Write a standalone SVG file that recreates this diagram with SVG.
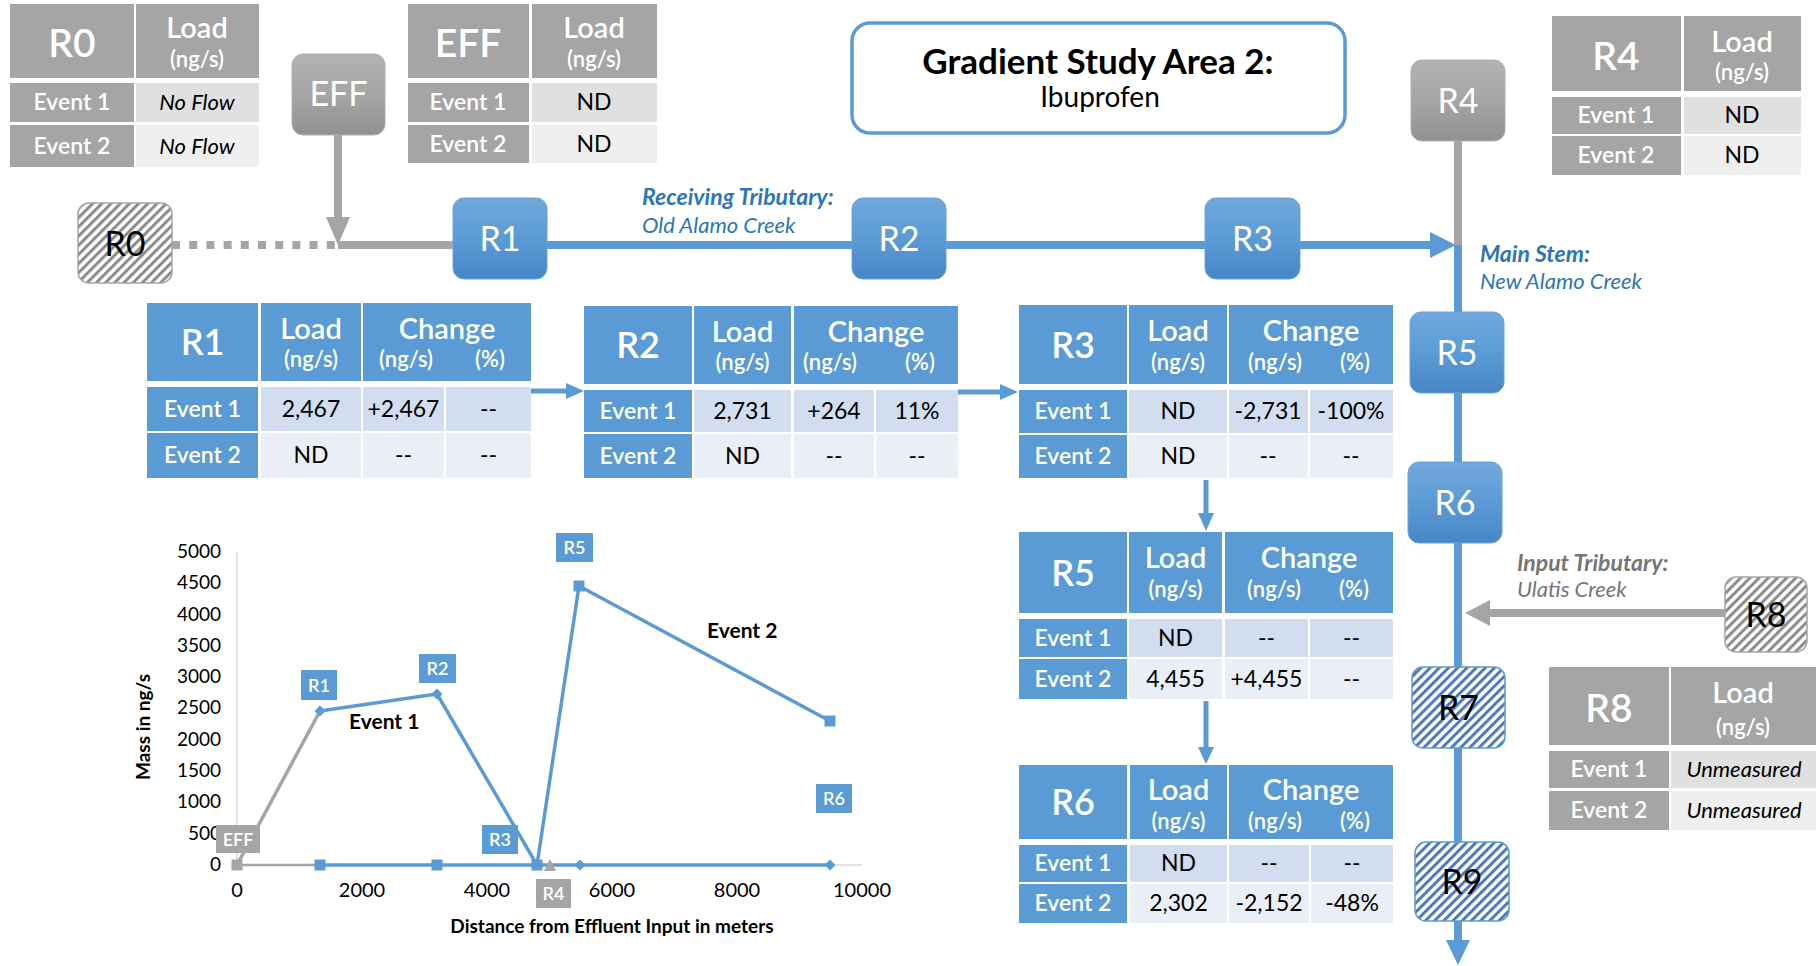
<svg xmlns="http://www.w3.org/2000/svg" width="1816" height="966" viewBox="0 0 1816 966">
<defs>
<linearGradient id="gBlue" x1="0" y1="0" x2="0" y2="1">
<stop offset="0" stop-color="#72A8DD"/>
<stop offset="0.5" stop-color="#5B9BD5"/>
<stop offset="1" stop-color="#4786C6"/>
</linearGradient>
<linearGradient id="gGray" x1="0" y1="0" x2="0" y2="1">
<stop offset="0" stop-color="#B3B3B3"/>
<stop offset="0.5" stop-color="#A5A5A5"/>
<stop offset="1" stop-color="#919191"/>
</linearGradient>
<pattern id="hGray" width="6.5" height="10" patternUnits="userSpaceOnUse" patternTransform="rotate(45)">
<rect width="6.5" height="10" fill="#fff"/>
<rect width="3" height="10" fill="#8C8C8C"/>
</pattern>
<pattern id="hBlue" width="6.5" height="10" patternUnits="userSpaceOnUse" patternTransform="rotate(45)">
<rect width="6.5" height="10" fill="#fff"/>
<rect width="3" height="10" fill="#4F78BC"/>
</pattern>
<style>
text{font-family:Lato,"Liberation Sans",sans-serif}
.c{text-anchor:middle}
.w{fill:#fff}
.k{fill:#000}
.gh{fill:#A5A5A5}.g1{fill:#E0E0E0}.g2{fill:#EFEFEF}
.bh{fill:#5B9BD5}.b1{fill:#D2DEEF}.b2{fill:#EAEFF7}
.nb{fill:url(#gBlue);stroke:#6AA3D8;stroke-width:1}
.ng{fill:url(#gGray);stroke:#B0B0B0;stroke-width:1}
.hg{fill:url(#hGray);stroke:#A5A5A5;stroke-width:1.5}
.hb{fill:url(#hBlue);stroke:#5B9BD5;stroke-width:1.5}
.nt{font-size:34px;text-anchor:middle}
.tr{font-size:39px;text-anchor:middle;fill:#fff;font-weight:600}
.br{font-size:36px;text-anchor:middle;fill:#fff;font-weight:600}
.tl{font-size:29px;text-anchor:middle;fill:#fff;font-weight:600}
.tu{font-size:22px;text-anchor:middle;fill:#fff;font-weight:600}
.te{font-size:23px;text-anchor:middle;fill:#fff;font-weight:600}
.tv{font-size:23px;text-anchor:middle;fill:#000}
.it{font-style:italic;font-size:22px}
.lb{stroke:#5B9BD5;stroke-width:8;fill:none}
.lg{stroke:#A5A5A5;stroke-width:8;fill:none}
.sb{stroke:#5B9BD5;stroke-width:5;fill:none}
.fb{fill:#5B9BD5}.fg{fill:#A5A5A5}
.ax{stroke:#D9D9D9;stroke-width:1.5;fill:none}
.yl{font-size:19px;text-anchor:end;fill:#000}
.xl{font-size:20px;text-anchor:middle;fill:#000}
.cl{font-size:18px;text-anchor:middle;fill:#fff;font-weight:600}
</style>
</defs>
<rect width="1816" height="966" fill="#fff"/>

<!-- Title -->
<g id="title">
<rect x="852" y="23" width="493" height="110" rx="18" fill="#fff" stroke="#5B9BD5" stroke-width="3.5"/>
<text x="1098" y="74" class="c" font-size="35" font-weight="bold" fill="#000">Gradient Study Area 2:</text>
<text x="1100" y="107" class="c" font-size="28" fill="#000">Ibuprofen</text>
</g>

<!-- Connectors -->
<g id="connectors">
<path class="lg" d="M172 245 H338" stroke-dasharray="8 9.2"/>
<path class="lg" d="M338 245 H454"/>
<path class="lg" d="M338 135 V220"/>
<polygon class="fg" points="326,217 350,217 338,245"/>
<path class="lb" d="M546 245 H1432"/>
<polygon class="fb" points="1430,232 1430,258 1456,245"/>
<path class="lg" d="M1458 140 V245"/>
<path class="lb" d="M1458 245 V942"/>
<polygon class="fb" points="1446,940 1470,940 1458,965"/>
<path class="lg" d="M1726 613 H1488"/>
<polygon class="fg" points="1490,600 1490,626 1465,613"/>
<path class="sb" d="M531 391 H568"/>
<polygon class="fb" points="566,383 566,399 584,391"/>
<path class="sb" d="M958 392 H1002"/>
<polygon class="fb" points="1000,384 1000,400 1018,392"/>
<path class="sb" d="M1206 480 V515"/>
<polygon class="fb" points="1198,513 1214,513 1206,531"/>
<path class="sb" d="M1206 701 V749"/>
<polygon class="fb" points="1198,747 1214,747 1206,764"/>
</g>

<!-- Flow labels -->
<g id="labels">
<text x="642" y="205" font-size="23" font-weight="bold" font-style="italic" fill="#2E75B6">Receiving Tributary:</text>
<text x="642" y="233" font-size="22" font-style="italic" fill="#2E75B6">Old Alamo Creek</text>
<text x="1480" y="262" font-size="23" font-weight="bold" font-style="italic" fill="#2E75B6">Main Stem:</text>
<text x="1480" y="289" font-size="22" font-style="italic" fill="#2E75B6">New Alamo Creek</text>
<text x="1517" y="571" font-size="23" font-weight="bold" font-style="italic" fill="#767676">Input Tributary:</text>
<text x="1517" y="597" font-size="22" font-style="italic" fill="#767676">Ulatis Creek</text>
</g>

<!-- Nodes -->
<g id="node-R0"><rect class="hg" x="78" y="203" width="94" height="80" rx="11"/><text class="nt k" x="125" y="256">R0</text></g>
<g id="node-EFF"><rect class="ng" x="292" y="54" width="93" height="81" rx="11"/><text class="nt w" x="338.5" y="106">EFF</text></g>
<g id="node-R1"><rect class="nb" x="453" y="198" width="94" height="81" rx="11"/><text class="nt w" x="500" y="251">R1</text></g>
<g id="node-R2"><rect class="nb" x="852" y="198" width="94" height="81" rx="11"/><text class="nt w" x="899" y="251">R2</text></g>
<g id="node-R3"><rect class="nb" x="1205" y="198" width="95" height="81" rx="11"/><text class="nt w" x="1252.5" y="251">R3</text></g>
<g id="node-R4"><rect class="ng" x="1411" y="60" width="94" height="81" rx="11"/><text class="nt w" x="1458" y="113">R4</text></g>
<g id="node-R5"><rect class="nb" x="1410" y="312" width="94" height="81" rx="11"/><text class="nt w" x="1457" y="365">R5</text></g>
<g id="node-R6"><rect class="nb" x="1408" y="462" width="94" height="81" rx="11"/><text class="nt w" x="1455" y="515">R6</text></g>
<g id="node-R7"><rect class="hb" x="1412" y="667" width="93" height="81" rx="11"/><text class="nt k" x="1458.5" y="720">R7</text></g>
<g id="node-R8"><rect class="hg" x="1725" y="577" width="82" height="75" rx="11"/><text class="nt k" x="1766" y="627">R8</text></g>
<g id="node-R9"><rect class="hb" x="1415" y="842" width="94" height="79" rx="11"/><text class="nt k" x="1462" y="894">R9</text></g>

<!-- Gray tables -->
<g id="table-R0">
<rect class="gh" x="10" y="4" width="124" height="74"/><rect class="gh" x="136" y="4" width="123" height="74"/>
<rect class="gh" x="10" y="83" width="124" height="39"/><rect class="g1" x="136" y="83" width="123" height="39"/>
<rect class="gh" x="10" y="125" width="124" height="42"/><rect class="g2" x="136" y="125" width="123" height="42"/>
<text class="tr" x="72" y="57">R0</text><text class="tl" x="197" y="38">Load</text><text class="tu" x="197" y="67">(ng/s)</text>
<text class="te" x="72" y="110">Event 1</text><text class="tv it" x="197" y="110">No Flow</text>
<text class="te" x="72" y="154">Event 2</text><text class="tv it" x="197" y="154">No Flow</text>
</g>
<g id="table-EFF">
<rect class="gh" x="408" y="4" width="121" height="74"/><rect class="gh" x="532" y="4" width="125" height="74"/>
<rect class="gh" x="408" y="83" width="121" height="39"/><rect class="g1" x="532" y="83" width="125" height="39"/>
<rect class="gh" x="408" y="125" width="121" height="38"/><rect class="g2" x="532" y="125" width="125" height="38"/>
<text class="tr" x="468" y="57">EFF</text><text class="tl" x="594" y="38">Load</text><text class="tu" x="594" y="67">(ng/s)</text>
<text class="te" x="468" y="110">Event 1</text><text class="tv" x="594" y="110">ND</text>
<text class="te" x="468" y="152">Event 2</text><text class="tv" x="594" y="152">ND</text>
</g>
<g id="table-R4">
<rect class="gh" x="1552" y="16" width="129" height="75"/><rect class="gh" x="1684" y="16" width="117" height="75"/>
<rect class="gh" x="1552" y="97" width="129" height="37"/><rect class="g1" x="1684" y="97" width="117" height="37"/>
<rect class="gh" x="1552" y="136" width="129" height="39"/><rect class="g2" x="1684" y="136" width="117" height="39"/>
<text class="tr" x="1616" y="70">R4</text><text class="tl" x="1742" y="52">Load</text><text class="tu" x="1742" y="80">(ng/s)</text>
<text class="te" x="1616" y="123">Event 1</text><text class="tv" x="1742" y="123">ND</text>
<text class="te" x="1616" y="163">Event 2</text><text class="tv" x="1742" y="163">ND</text>
</g>
<g id="table-R8">
<rect class="gh" x="1549" y="667" width="120" height="78"/><rect class="gh" x="1671" y="667" width="145" height="78"/>
<rect class="gh" x="1549" y="751" width="120" height="37"/><rect class="g1" x="1671" y="751" width="145" height="37"/>
<rect class="gh" x="1549" y="791" width="120" height="39"/><rect class="g2" x="1671" y="791" width="145" height="39"/>
<text class="tr" x="1609" y="722">R8</text><text class="tl" x="1743" y="703">Load</text><text class="tu" x="1743" y="735">(ng/s)</text>
<text class="te" x="1609" y="777">Event 1</text><text class="tv it" x="1744" y="777">Unmeasured</text>
<text class="te" x="1609" y="818">Event 2</text><text class="tv it" x="1744" y="818">Unmeasured</text>
</g>

<!-- Blue tables -->
<g id="table-R1">
<rect class="bh" x="147" y="303" width="111" height="78"/><rect class="bh" x="261" y="303" width="100" height="78"/><rect class="bh" x="363" y="303" width="168" height="78"/>
<rect class="bh" x="147" y="387" width="111" height="44"/><rect class="b1" x="261" y="387" width="100" height="44"/><rect class="b1" x="363" y="387" width="81" height="44"/><rect class="b1" x="446" y="387" width="85" height="44"/>
<rect class="bh" x="147" y="433" width="111" height="45"/><rect class="b2" x="261" y="433" width="100" height="45"/><rect class="b2" x="363" y="433" width="81" height="45"/><rect class="b2" x="446" y="433" width="85" height="45"/>
<text class="br" x="202.5" y="355">R1</text>
<text class="tl" x="311" y="339">Load</text><text class="tu" x="311" y="367">(ng/s)</text>
<text class="tl" x="447" y="339">Change</text><text class="tu" x="406" y="367">(ng/s)</text><text class="tu" x="490" y="367">(%)</text>
<text class="te" x="202.5" y="417">Event 1</text><text class="tv" x="311" y="417">2,467</text><text class="tv" x="403.5" y="417">+2,467</text><text class="tv" x="488.5" y="417">--</text>
<text class="te" x="202.5" y="463">Event 2</text><text class="tv" x="311" y="463">ND</text><text class="tv" x="403.5" y="463">--</text><text class="tv" x="488.5" y="463">--</text>
</g>
<g id="table-R2">
<rect class="bh" x="584" y="306" width="108" height="78"/><rect class="bh" x="694" y="306" width="97" height="78"/><rect class="bh" x="794" y="306" width="164" height="78"/>
<rect class="bh" x="584" y="390" width="108" height="42"/><rect class="b1" x="694" y="390" width="97" height="42"/><rect class="b1" x="794" y="390" width="80" height="42"/><rect class="b1" x="876" y="390" width="82" height="42"/>
<rect class="bh" x="584" y="434" width="108" height="44"/><rect class="b2" x="694" y="434" width="97" height="44"/><rect class="b2" x="794" y="434" width="80" height="44"/><rect class="b2" x="876" y="434" width="82" height="44"/>
<text class="br" x="638" y="358">R2</text>
<text class="tl" x="742.5" y="342">Load</text><text class="tu" x="742.5" y="370">(ng/s)</text>
<text class="tl" x="876" y="342">Change</text><text class="tu" x="830" y="370">(ng/s)</text><text class="tu" x="920" y="370">(%)</text>
<text class="te" x="638" y="419">Event 1</text><text class="tv" x="742.5" y="419">2,731</text><text class="tv" x="834" y="419">+264</text><text class="tv" x="917" y="419">11%</text>
<text class="te" x="638" y="464">Event 2</text><text class="tv" x="742.5" y="464">ND</text><text class="tv" x="834" y="464">--</text><text class="tv" x="917" y="464">--</text>
</g>
<g id="table-R3">
<rect class="bh" x="1019" y="305" width="108" height="79"/><rect class="bh" x="1129" y="305" width="98" height="79"/><rect class="bh" x="1229" y="305" width="164" height="79"/>
<rect class="bh" x="1019" y="390" width="108" height="43"/><rect class="b1" x="1129" y="390" width="98" height="43"/><rect class="b1" x="1229" y="390" width="79" height="43"/><rect class="b1" x="1310" y="390" width="83" height="43"/>
<rect class="bh" x="1019" y="435" width="108" height="43"/><rect class="b2" x="1129" y="435" width="98" height="43"/><rect class="b2" x="1229" y="435" width="79" height="43"/><rect class="b2" x="1310" y="435" width="83" height="43"/>
<text class="br" x="1073" y="358">R3</text>
<text class="tl" x="1178" y="341">Load</text><text class="tu" x="1178" y="370">(ng/s)</text>
<text class="tl" x="1311" y="341">Change</text><text class="tu" x="1275" y="370">(ng/s)</text><text class="tu" x="1355" y="370">(%)</text>
<text class="te" x="1073" y="419">Event 1</text><text class="tv" x="1178" y="419">ND</text><text class="tv" x="1268" y="419">-2,731</text><text class="tv" x="1351" y="419">-100%</text>
<text class="te" x="1073" y="464">Event 2</text><text class="tv" x="1178" y="464">ND</text><text class="tv" x="1268" y="464">--</text><text class="tv" x="1351" y="464">--</text>
</g>
<g id="table-R5">
<rect class="bh" x="1019" y="532" width="108" height="81"/><rect class="bh" x="1129" y="532" width="93" height="81"/><rect class="bh" x="1225" y="532" width="168" height="81"/>
<rect class="bh" x="1019" y="619" width="108" height="38"/><rect class="b1" x="1129" y="619" width="93" height="38"/><rect class="b1" x="1225" y="619" width="83" height="38"/><rect class="b1" x="1310" y="619" width="83" height="38"/>
<rect class="bh" x="1019" y="659" width="108" height="40"/><rect class="b2" x="1129" y="659" width="93" height="40"/><rect class="b2" x="1225" y="659" width="83" height="40"/><rect class="b2" x="1310" y="659" width="83" height="40"/>
<text class="br" x="1073" y="586">R5</text>
<text class="tl" x="1175.5" y="568">Load</text><text class="tu" x="1175.5" y="597">(ng/s)</text>
<text class="tl" x="1309" y="568">Change</text><text class="tu" x="1274" y="597">(ng/s)</text><text class="tu" x="1354" y="597">(%)</text>
<text class="te" x="1073" y="646">Event 1</text><text class="tv" x="1175.5" y="646">ND</text><text class="tv" x="1266.5" y="646">--</text><text class="tv" x="1351.5" y="646">--</text>
<text class="te" x="1073" y="687">Event 2</text><text class="tv" x="1175.5" y="687">4,455</text><text class="tv" x="1266.5" y="687">+4,455</text><text class="tv" x="1351.5" y="687">--</text>
</g>
<g id="table-R6">
<rect class="bh" x="1019" y="765" width="108" height="74"/><rect class="bh" x="1130" y="765" width="97" height="74"/><rect class="bh" x="1229" y="765" width="164" height="74"/>
<rect class="bh" x="1019" y="845" width="108" height="37"/><rect class="b1" x="1130" y="845" width="97" height="37"/><rect class="b1" x="1229" y="845" width="80" height="37"/><rect class="b1" x="1311" y="845" width="82" height="37"/>
<rect class="bh" x="1019" y="884" width="108" height="39"/><rect class="b2" x="1130" y="884" width="97" height="39"/><rect class="b2" x="1229" y="884" width="80" height="39"/><rect class="b2" x="1311" y="884" width="82" height="39"/>
<text class="br" x="1073" y="815">R6</text>
<text class="tl" x="1178.5" y="800">Load</text><text class="tu" x="1178.5" y="829">(ng/s)</text>
<text class="tl" x="1311" y="800">Change</text><text class="tu" x="1275" y="829">(ng/s)</text><text class="tu" x="1355" y="829">(%)</text>
<text class="te" x="1073" y="871">Event 1</text><text class="tv" x="1178.5" y="871">ND</text><text class="tv" x="1269" y="871">--</text><text class="tv" x="1352" y="871">--</text>
<text class="te" x="1073" y="911">Event 2</text><text class="tv" x="1178.5" y="911">2,302</text><text class="tv" x="1269" y="911">-2,152</text><text class="tv" x="1352" y="911">-48%</text>
</g>

<!-- Chart -->
<g id="chart">
<path class="ax" d="M237 552 V865 M237 865 H862"/>
<g id="y-labels">
<text class="yl" x="221" y="558">5000</text>
<text class="yl" x="221" y="589">4500</text>
<text class="yl" x="221" y="621">4000</text>
<text class="yl" x="221" y="652">3500</text>
<text class="yl" x="221" y="683">3000</text>
<text class="yl" x="221" y="714">2500</text>
<text class="yl" x="221" y="746">2000</text>
<text class="yl" x="221" y="777">1500</text>
<text class="yl" x="221" y="808">1000</text>
<text class="yl" x="221" y="840">500</text>
<text class="yl" x="221" y="871">0</text>
</g>
<g id="x-labels">
<text class="xl" x="237" y="897">0</text>
<text class="xl" x="362" y="897">2000</text>
<text class="xl" x="487" y="897">4000</text>
<text class="xl" x="612" y="897">6000</text>
<text class="xl" x="737" y="897">8000</text>
<text class="xl" x="862" y="897">10000</text>
</g>
<text transform="translate(150,727) rotate(-90)" class="c" font-size="19" font-weight="bold" fill="#000">Mass in ng/s</text>
<text x="612" y="933" class="c" font-size="19" font-weight="bold" fill="#000">Distance from Effluent Input in meters</text>
<g id="series">
<path d="M237 865 H320" stroke="#A5A5A5" stroke-width="2.5" fill="none"/>
<path d="M237 865 L320 711" stroke="#A5A5A5" stroke-width="3.5" fill="none"/>
<path d="M320 711 L437 694 L537 865 L830 865" stroke="#5B9BD5" stroke-width="3.5" fill="none" stroke-linejoin="round"/>
<path d="M320 865 L537 865 L579 586 L830 721" stroke="#5B9BD5" stroke-width="3.5" fill="none" stroke-linejoin="round"/>
<polygon points="237,860 242,865 237,870 232,865" fill="#5B9BD5"/>
<polygon points="320,705.5 325.5,711 320,716.5 314.5,711" fill="#5B9BD5"/>
<polygon points="437,688.5 442.5,694 437,699.5 431.5,694" fill="#5B9BD5"/>
<polygon points="580,859.5 585.5,865 580,870.5 574.5,865" fill="#5B9BD5"/>
<polygon points="830,859.5 835.5,865 830,870.5 824.5,865" fill="#5B9BD5"/>
<rect x="231.5" y="859.5" width="11" height="11" fill="#A5A5A5"/>
<rect x="314.5" y="859.5" width="11" height="11" fill="#5B9BD5"/>
<rect x="431.5" y="859.5" width="11" height="11" fill="#5B9BD5"/>
<rect x="531.5" y="859.5" width="11" height="11" fill="#5B9BD5"/>
<rect x="573.5" y="580.5" width="11" height="11" fill="#5B9BD5"/>
<rect x="824.5" y="715.5" width="11" height="11" fill="#5B9BD5"/>
<polygon points="550,859 556,871 544,871" fill="#A5A5A5"/>
</g>
<g id="chart-labels">
<rect x="216" y="825" width="44" height="28" fill="#A5A5A5"/><text class="cl" x="238" y="846">EFF</text>
<rect x="301" y="670" width="36" height="30" fill="#5B9BD5"/><text class="cl" x="319" y="692">R1</text>
<rect x="419" y="654" width="37" height="29" fill="#5B9BD5"/><text class="cl" x="437.5" y="675">R2</text>
<rect x="482" y="825" width="36" height="29" fill="#5B9BD5"/><text class="cl" x="500" y="846">R3</text>
<rect x="536" y="879" width="35" height="29" fill="#A5A5A5"/><text class="cl" x="553.5" y="900">R4</text>
<rect x="556" y="533" width="37" height="29" fill="#5B9BD5"/><text class="cl" x="574.5" y="554">R5</text>
<rect x="816" y="784" width="36" height="29" fill="#5B9BD5"/><text class="cl" x="834" y="805">R6</text>
<text x="349" y="729" font-size="21" font-weight="bold" fill="#000">Event 1</text>
<text x="707" y="638" font-size="21" font-weight="bold" fill="#000">Event 2</text>
</g>
</g>
</svg>
